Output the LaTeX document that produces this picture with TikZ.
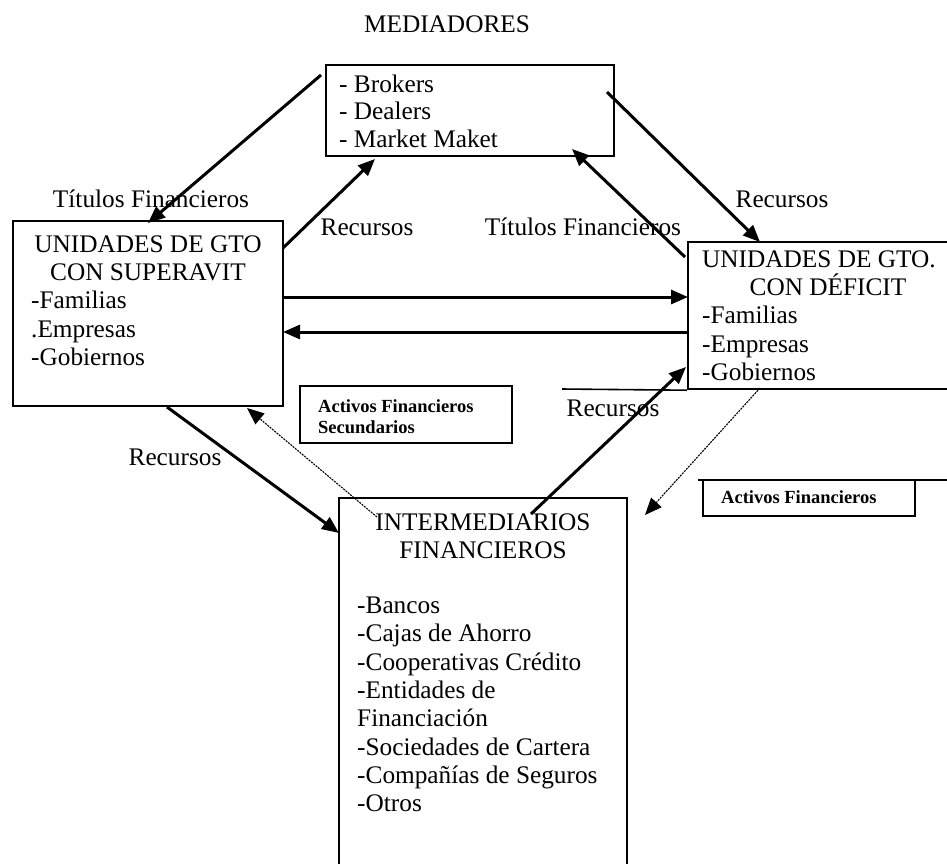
\documentclass[tikz,border=0pt]{standalone}
\usepackage{fontspec}
\setmainfont{Liberation Serif}
\usetikzlibrary{arrows.meta}
\begin{document}
\begin{tikzpicture}[x=1pt,y=-1pt,
  box/.style={draw, line width=2.4pt, inner sep=0pt},
  lbl/.style={inner sep=0pt, font=\fontsize{25.3}{28.3}\selectfont},
  tag/.style={inner sep=0pt, font=\bfseries\fontsize{18.5}{21}\selectfont},
  flow/.style={line width=3pt, -{Triangle[length=17pt,width=14pt]}},
  faint/.style={line width=1.1pt, dash pattern=on 2pt off 1pt, -{Triangle[length=17pt,width=14pt]}}]
\useasboundingbox (0,0) rectangle (947,863);

% boxes
\node[box, minimum width=288pt, minimum height=91pt] (med) at (470,110.5) {};
\node[box, minimum width=270pt, minimum height=185pt] (sup) at (148,313.5) {};
\node[box, minimum width=280pt, minimum height=147pt] (def) at (828,315.5) {};
\node[box, minimum width=288pt, minimum height=400pt] (int) at (483,698) {};
\node[box, minimum width=212pt, minimum height=57pt] (acts) at (406,414.5) {};
\node[box, minimum width=212pt, minimum height=36pt] (act) at (809,498) {};
\coordinate (rl1) at (698,480);
\coordinate (rl2) at (960,480);
\draw[line width=1.6pt] (rl1) -- (rl2);
\coordinate (bl1) at (562,389);
\draw[line width=1.6pt] (bl1) -- (def.south west);

% title
\node[lbl, anchor=base] (title) at (447,32) {MEDIADORES};

% mediadores
\node[lbl, anchor=base west] (m1) at (339,92) {- Brokers};
\node[lbl, anchor=base west] (m2) at (339,119.5) {- Dealers};
\node[lbl, anchor=base west] (m3) at (339,147) {- Market Maket};

% superavit
\node[lbl, anchor=base] (s1) at (148,252) {UNIDADES DE GTO};
\node[lbl, anchor=base] (s2) at (148,280) {CON SUPERAVIT};
\node[lbl, anchor=base west] (s3) at (31,308) {-Familias};
\node[lbl, anchor=base west] (s4) at (31,337) {.Empresas};
\node[lbl, anchor=base west] (s5) at (31,365) {-Gobiernos};

% deficit
\node[lbl, anchor=base west] (d1) at (702,267) {UNIDADES DE GTO.};
\node[lbl, anchor=base] (d2) at (828,295) {CON DÉFICIT};
\node[lbl, anchor=base west] (d3) at (702,323) {-Familias};
\node[lbl, anchor=base west] (d4) at (702,352) {-Empresas};
\node[lbl, anchor=base west] (d5) at (702,380) {-Gobiernos};

% intermediarios
\node[lbl, anchor=base] (i1) at (483,530) {INTERMEDIARIOS};
\node[lbl, anchor=base] (i2) at (483,558) {FINANCIEROS};
\node[lbl, anchor=base west] (i3) at (357,613) {-Bancos};
\node[lbl, anchor=base west] (i4) at (357,641.5) {-Cajas de Ahorro};
\node[lbl, anchor=base west] (i5) at (357,670) {-Cooperativas Crédito};
\node[lbl, anchor=base west] (i6) at (357,698) {-Entidades de};
\node[lbl, anchor=base west] (i7) at (357,726.5) {Financiación};
\node[lbl, anchor=base west] (i8) at (357,755) {-Sociedades de Cartera};
\node[lbl, anchor=base west] (i9) at (357,783) {-Compañías de Seguros};
\node[lbl, anchor=base west] (i10) at (357,811.5) {-Otros};

% tags
\node[tag, anchor=base west] (t1) at (318,412) {Activos Financieros};
\node[tag, anchor=base west] (t1b) at (318,433) {Secundarios};
\node[tag, anchor=base west] (t2) at (721,503) {Activos Financieros};

% flow labels
\node[lbl, anchor=base] (l1) at (151,207) {Títulos Financieros};
\node[lbl, anchor=base] (l2) at (367,235) {Recursos};
\node[lbl, anchor=base] (l3) at (583,235) {Títulos Financieros};
\node[lbl, anchor=base] (l4) at (782,207) {Recursos};
\node[lbl, anchor=base] (l5) at (613,416) {Recursos};
\node[lbl, anchor=base] (l6) at (175,465) {Recursos};

% connector ends
\coordinate (a1s) at (321,75);   \coordinate (a1e) at (148,223);
\coordinate (a2s) at (283,248);  \coordinate (a2e) at (375,159);
\coordinate (a3s) at (607,92);   \coordinate (a3e) at (760,242);
\coordinate (a4s) at (685,257);  \coordinate (a4e) at (572,149);
\coordinate (h1s) at (283,297);  \coordinate (h1e) at (688,297);
\coordinate (h2s) at (688,332);  \coordinate (h2e) at (283,332);
\coordinate (a5s) at (531,514);  \coordinate (a5e) at (686,367);
\coordinate (a6s) at (167,407);  \coordinate (a6e) at (339,533);
\coordinate (f1s) at (760,388);  \coordinate (f1e) at (645,515);
\coordinate (f2s) at (377,517);  \coordinate (f2e) at (247,408);

% connectors
\draw[flow] (a1s) -- (a1e);
\draw[flow] (a2s) -- (a2e);
\draw[flow] (a3s) -- (a3e);
\draw[flow] (a4s) -- (a4e);
\draw[flow] (h1s) -- (h1e);
\draw[flow] (h2s) -- (h2e);
\draw[flow] (a5s) -- (a5e);
\draw[flow] (a6s) -- (a6e);
\draw[faint] (f1s) -- (f1e);
\draw[faint] (f2s) -- (f2e);
\end{tikzpicture}
\end{document}
